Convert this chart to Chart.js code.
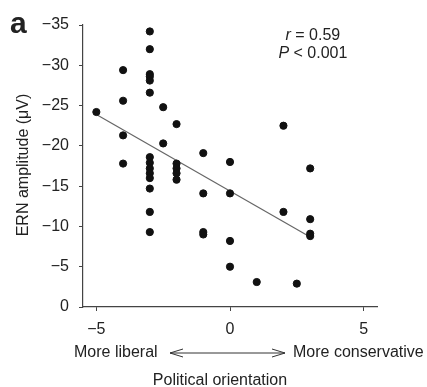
<!DOCTYPE html>
<html>
<head>
<meta charset="utf-8">
<script src="https://cdn.jsdelivr.net/npm/chart.js@4.4.1/dist/chart.umd.min.js"></script>
<style>
  html, body { margin: 0; padding: 0; background: #fff; }
  #wrap { width: 427px; height: 387px; position: relative; }
</style>
</head>
<body>
<div id="wrap"><canvas id="ernChart"></canvas></div>
<script>
// ---- data ----
const orientation = [
  -5,
  -4, -4, -4, -4,
  -3, -3, -3, -3, -3, -3, -3, -3, -3, -3, -3, -3, -3, -3,
  -2.5, -2.5,
  -2, -2, -2, -2, -2,
  -1, -1, -1, -1,
  0, 0, 0, 0,
  1,
  2, 2,
  2.5,
  3, 3, 3, 3
];
const ernAmplitude = [
  -24.2,
  -29.4, -25.6, -21.3, -17.8,
  -34.2, -32.0, -28.9, -28.6, -28.1, -26.6, -18.6, -17.9, -17.2, -16.6, -16.0, -14.7, -11.8, -9.3,
  -24.8, -20.3,
  -22.7, -17.8, -17.2, -16.6, -15.8,
  -19.1, -14.1, -9.3, -9.0,
  -18.0, -14.1, -8.2, -5.0,
  -3.1,
  -22.5, -11.8,
  -2.9,
  -17.2, -10.9, -9.1, -8.8
];
const fitX = [-5, 3];
const fitY = [-23.9, -8.7];
const xTicks = [-5, 0, 5];
const statLines = ['r = 0.59', 'P < 0.001'];

const FONT = '"Liberation Sans", Arial, Helvetica, sans-serif';
const minus = v => (v < 0 ? '\u2212' + Math.abs(v) : String(v));

// extra labels: panel letter, stats, arrow row, axis titles
const extrasPlugin = {
  id: 'extras',
  afterDraw(chart) {
    const ctx = chart.ctx;
    const area = chart.chartArea;
    const xs = chart.scales.x;
    ctx.save();
    ctx.fillStyle = '#222';

    // panel letter
    ctx.font = 'bold 30px ' + FONT;
    ctx.textAlign = 'left';
    ctx.textBaseline = 'alphabetic';
    ctx.fillText('a', 10, 33);

    // stats
    ctx.font = '16px ' + FONT;
    ctx.textAlign = 'center';
    ctx.textBaseline = 'middle';
    const sx = xs.getPixelForValue(3.1);
    drawItalicLead(ctx, statLines[0], sx, area.top + 11);
    drawItalicLead(ctx, statLines[1], sx, area.top + 29);

    // arrow row
    const rowY = area.bottom + 46;
    ctx.font = '16px ' + FONT;
    ctx.textAlign = 'left';
    ctx.fillText('More liberal', 74, rowY);
    ctx.fillText('More conservative', 293, rowY);
    const a0 = 170, a1 = 285;
    ctx.strokeStyle = '#333';
    ctx.lineWidth = 1;
    ctx.beginPath();
    ctx.moveTo(a0, rowY); ctx.lineTo(a1, rowY);
    ctx.moveTo(a0 + 13, rowY - 4); ctx.lineTo(a0, rowY); ctx.lineTo(a0 + 13, rowY + 4);
    ctx.moveTo(a1 - 13, rowY - 4); ctx.lineTo(a1, rowY); ctx.lineTo(a1 - 13, rowY + 4);
    ctx.stroke();

    // x title
    ctx.textAlign = 'center';
    ctx.fillText('Political orientation', 220, area.bottom + 74);

    // y title
    ctx.translate(24, 165);
    ctx.rotate(-Math.PI / 2);
    ctx.fillText('ERN amplitude (\u03bcV)', 0, 0);
    ctx.restore();
  }
};

function drawItalicLead(ctx, text, cx, cy) {
  const lead = text.charAt(0);
  const rest = text.slice(1);
  ctx.font = 'italic 16px ' + FONT;
  const w1 = ctx.measureText(lead).width;
  ctx.font = '16px ' + FONT;
  const w2 = ctx.measureText(rest).width;
  const left = cx - (w1 + w2) / 2;
  ctx.textAlign = 'left';
  ctx.font = 'italic 16px ' + FONT;
  ctx.fillText(lead, left, cy);
  ctx.font = '16px ' + FONT;
  ctx.fillText(rest, left + w1, cy);
  ctx.textAlign = 'center';
}

const points = orientation.map((x, i) => ({ x: x, y: ernAmplitude[i] }));
const fitLine = fitX.map((x, i) => ({ x: x, y: fitY[i] }));

new Chart(document.getElementById('ernChart'), {
  type: 'scatter',
  data: {
    datasets: [
      {
        data: points,
        backgroundColor: '#111',
        borderColor: '#111',
        pointRadius: 3.6,
        pointHoverRadius: 3.6
      },
      {
        type: 'line',
        data: fitLine,
        borderColor: '#666',
        borderWidth: 1.2,
        pointRadius: 0,
        fill: false
      }
    ]
  },
  options: {
    responsive: true,
    maintainAspectRatio: false,
    animation: false,
    layout: { padding: { left: 0, top: 25, right: 50, bottom: 0 } },
    plugins: { legend: { display: false }, tooltip: { enabled: false } },
    scales: {
      x: {
        type: 'linear',
        min: -5.5,
        max: 5.5,
        afterBuildTicks: s => { s.ticks = xTicks.map(v => ({ value: v })); },
        afterFit: s => { s.height = 80; },
        ticks: { color: '#222', font: { family: FONT, size: 16 }, padding: 9, maxRotation: 0, callback: minus },
        grid: { drawOnChartArea: false, drawTicks: true, tickLength: 4, color: '#444' },
        border: { display: true, color: '#444', width: 1.2 }
      },
      y: {
        type: 'linear',
        min: -35,
        max: 0,
        reverse: true,
        afterFit: s => { s.width = 83; },
        ticks: { stepSize: 5, color: '#222', font: { family: FONT, size: 16 }, padding: 10, callback: minus },
        grid: { drawOnChartArea: false, drawTicks: true, tickLength: 4, color: '#444' },
        border: { display: true, color: '#444', width: 1.2 }
      }
    }
  },
  plugins: [extrasPlugin]
});
</script>
</body>
</html>
